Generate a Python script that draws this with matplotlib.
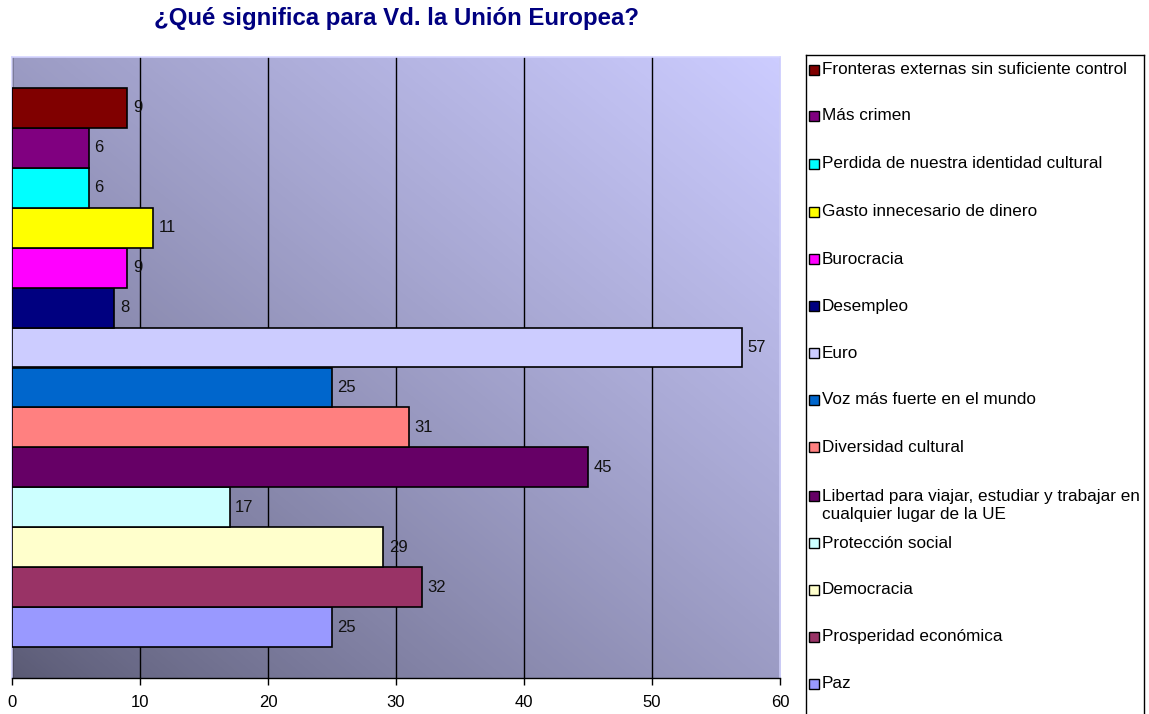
import numpy as np
import matplotlib.pyplot as plt
import matplotlib.patches as patches
from matplotlib import font_manager
from matplotlib.colors import LinearSegmentedColormap

plt.rcParams['font.family'] = ['Liberation Sans', 'DejaVu Sans']

# data, bottom to top as drawn
categories = [
    "Paz",
    "Prosperidad económica",
    "Democracia",
    "Protección social",
    "Libertad para viajar, estudiar y trabajar en\ncualquier lugar de la UE",
    "Diversidad cultural",
    "Voz más fuerte en el mundo",
    "Euro",
    "Desempleo",
    "Burocracia",
    "Gasto innecesario de dinero",
    "Perdida de nuestra identidad cultural",
    "Más crimen",
    "Fronteras externas sin suficiente control",
]
values = [25, 32, 29, 17, 45, 31, 25, 57, 8, 9, 11, 6, 6, 9]
colors = ["#9999FF", "#993366", "#FFFFCC", "#CCFFFF", "#660066", "#FF8080",
          "#0066CC", "#CCCCFF", "#000080", "#FF00FF", "#FFFF00", "#00FFFF",
          "#800080", "#800000"]
x_ticks = [0, 10, 20, 30, 40, 50, 60]

# make sure the bold title uses regular-width Liberation Sans, not the Narrow cut
bold_path = None
for f in font_manager.fontManager.ttflist:
    if f.name == "Liberation Sans" and f.weight in (700, "bold") and f.style == "normal":
        bold_path = f.fname
        break
title_font = (font_manager.FontProperties(fname=bold_path, size=17.3) if bold_path
              else font_manager.FontProperties(family="Liberation Sans", weight="bold", size=17.3))

W, H = 1149, 714
fig = plt.figure(figsize=(W / 100, H / 100), dpi=100)
fig.patch.set_facecolor("white")

ax = fig.add_axes([12 / W, 1 - 678 / H, (780 - 12) / W, (678 - 57) / H])

# diagonal gradient for the plot area
n = 200
gx, gy = np.meshgrid(np.linspace(0, 1, n), np.linspace(0, 1, n))
t = np.clip((gx + gy) / 2, 0, 1) ** 0.8
cmap = LinearSegmentedColormap.from_list("bg", ["#5a5a74", "#ccccff"])
ax.imshow(t, cmap=cmap, origin="lower", extent=[0, 1, 0, 1],
          transform=ax.transAxes, aspect="auto", zorder=0, interpolation="bilinear")

ypos = np.arange(len(categories))
bars = ax.barh(ypos, values, height=1.0, color=colors, edgecolor="black",
               linewidth=1.2, zorder=3)
ax.bar_label(bars, labels=[str(v) for v in values], padding=4, fontsize=12, color="#111111")

ax.set_xlim(0, 60)
ax.set_ylim(-0.5 - 0.77, len(categories) - 0.5 + 0.77)
ax.set_xticks(x_ticks)
ax.set_yticks([])
ax.xaxis.grid(True, color="black", linewidth=1.0, zorder=1)
ax.set_axisbelow(True)
ax.tick_params(axis="x", direction="out", length=5, width=1, labelsize=12, pad=7)
for side in ["left", "top", "right"]:
    ax.spines[side].set_color("#d4d4ff")
    ax.spines[side].set_linewidth(1.2)
ax.spines["bottom"].set_color("black")
ax.spines["bottom"].set_linewidth(1.0)

fig.text(397 / W, 1 - 19 / H, "¿Qué significa para Vd. la Unión Europea?",
         ha="center", va="center", fontproperties=title_font, color="#000080")

# legend box, drawn by hand to mimic spreadsheet layout
lax = fig.add_axes([806 / W, 1 - 722 / H, (1144 - 806) / W, (722 - 55) / H])
lax.set_xlim(806, 1144)
lax.set_ylim(722, 55)
lax.set_xticks([])
lax.set_yticks([])
for s in lax.spines.values():
    s.set_color("black")
    s.set_linewidth(1.0)

legend_y = [70, 116, 164, 212, 259, 306, 353, 400, 447, 496, 543, 590, 637, 684]
for yy, lab, col in zip(legend_y, categories[::-1], colors[::-1]):
    lax.add_patch(patches.Rectangle((809, yy - 5), 10, 10, facecolor=col,
                                    edgecolor="black", linewidth=1.0))
    lax.text(822, yy - 7.5, lab, ha="left", va="top", fontsize=12.3,
             linespacing=1.3, color="black")

fig.savefig("out.png", dpi=100)
